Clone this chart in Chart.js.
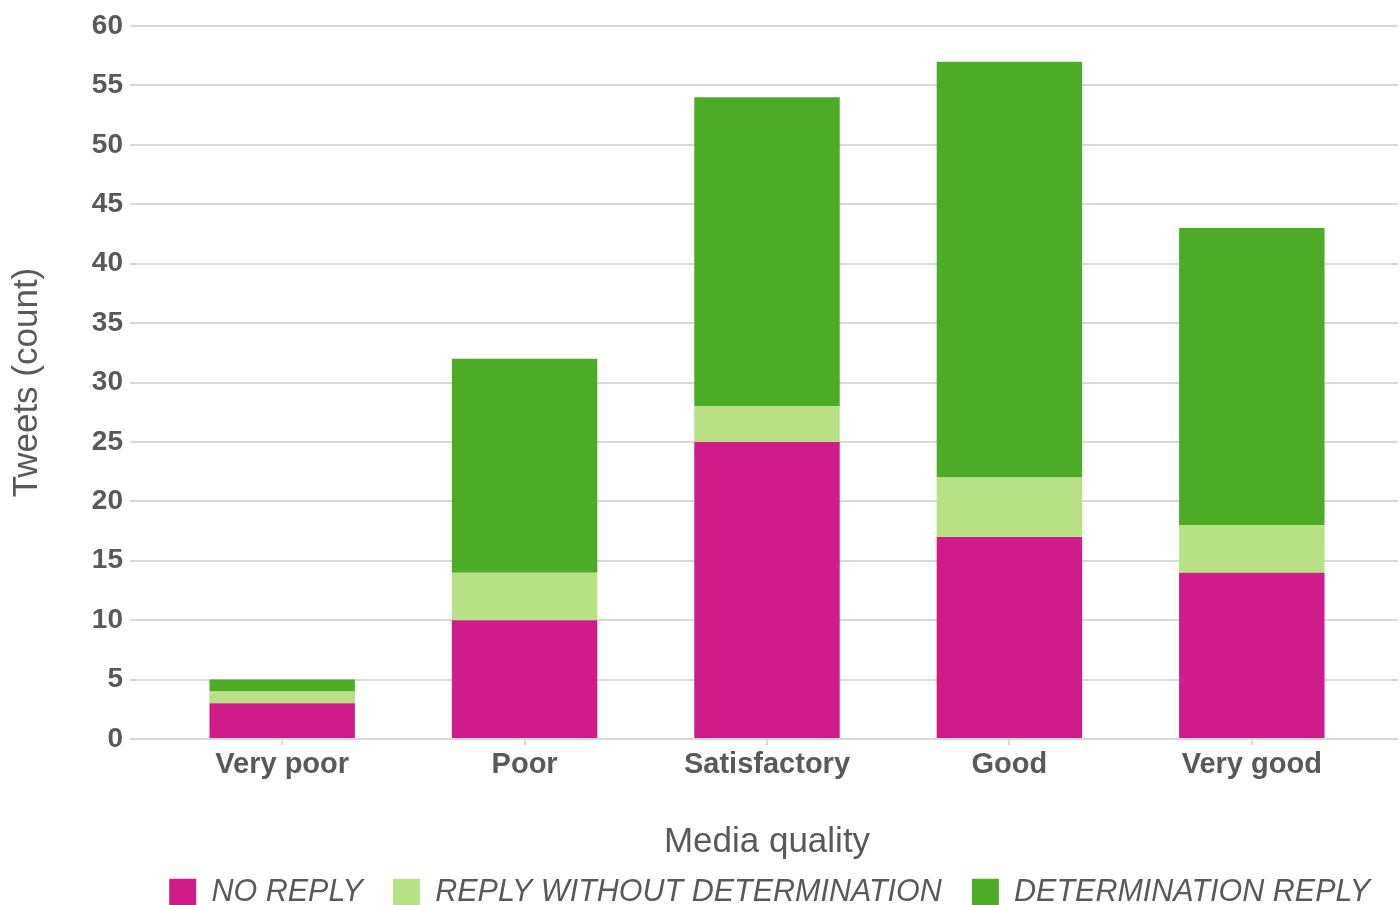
<!DOCTYPE html>
<html>
<head>
<meta charset="utf-8">
<title>Tweets by media quality</title>
<script src="https://cdn.jsdelivr.net/npm/chart.js@4/dist/chart.umd.min.js"></script>
<style>
  html, body { margin: 0; padding: 0; background: #fff; }
  #wrap { width: 1400px; height: 905px; position: relative; }
</style>
</head>
<body>
<div id="wrap"><canvas id="chart"></canvas></div>
<script>
const categories = ['Very poor', 'Poor', 'Satisfactory', 'Good', 'Very good'];
const noReply = [3, 10, 25, 17, 14];
const replyWithoutDetermination = [1, 4, 3, 5, 4];
const determinationReply = [1, 18, 26, 35, 25];
const yTicks = [0, 5, 10, 15, 20, 25, 30, 35, 40, 45, 50, 55, 60];

const TEXT = '#595959';
const GRID = '#d9d9d9';

Chart.defaults.font.family = "'Liberation Sans', Arial, sans-serif";
Chart.defaults.color = TEXT;

const yMin = yTicks[0];
const yMax = yTicks[yTicks.length - 1];
const yStep = yTicks[1] - yTicks[0];

new Chart(document.getElementById('chart'), {
  type: 'bar',
  data: {
    labels: categories,
    datasets: [
      { label: 'NO REPLY', data: noReply, backgroundColor: '#d01c8b', borderWidth: 0 },
      { label: 'REPLY WITHOUT DETERMINATION', data: replyWithoutDetermination, backgroundColor: '#b8e186', borderWidth: 0 },
      { label: 'DETERMINATION REPLY', data: determinationReply, backgroundColor: '#4dac26', borderWidth: 0 }
    ]
  },
  options: {
    responsive: true,
    maintainAspectRatio: false,
    animation: false,
    layout: { padding: { top: 26 } },
    datasets: { bar: { categoryPercentage: 1, barPercentage: 0.6 } },
    scales: {
      x: {
        stacked: true,
        border: { display: false },
        grid: { display: true, offset: false, drawOnChartArea: false, drawTicks: true, tickLength: 6, color: GRID, lineWidth: 2 },
        ticks: { padding: 3, font: { size: 29, weight: 'bold' }, color: TEXT },
        title: {
          display: true,
          text: 'Media quality',
          font: { size: 35, lineHeight: 1 },
          color: TEXT,
          padding: { top: 0, bottom: -13 }
        },
        afterFit: s => { s.height = 108; }
      },
      y: {
        stacked: true,
        min: yMin,
        max: yMax,
        border: { display: false },
        grid: { color: GRID, lineWidth: 2, drawTicks: true, tickLength: 31 },
        ticks: { stepSize: yStep, padding: 7, font: { size: 28, weight: 'bold' }, color: TEXT },
        title: {
          display: true,
          text: 'Tweets (count)',
          font: { size: 35, lineHeight: 1 },
          color: TEXT,
          padding: { top: 10, bottom: 0 }
        },
        afterFit: s => { s.width = 161; }
      },
      // right-hand stub so the grid runs past the last bar
      y2: {
        position: 'right',
        min: yMin,
        max: yMax,
        border: { display: false },
        grid: { color: GRID, lineWidth: 2, drawOnChartArea: false, drawTicks: true, tickLength: 25 },
        ticks: { stepSize: yStep, display: false },
        afterFit: s => { s.width = 27; }
      }
    },
    plugins: {
      tooltip: { enabled: false },
      legend: {
        position: 'bottom',
        align: 'end',
        maxHeight: 58,
        labels: {
          boxWidth: 27,
          boxHeight: 27,
          padding: 30,
          color: TEXT,
          font: { size: 30.5, style: 'italic' }
        }
      }
    }
  }
});
</script>
</body>
</html>
